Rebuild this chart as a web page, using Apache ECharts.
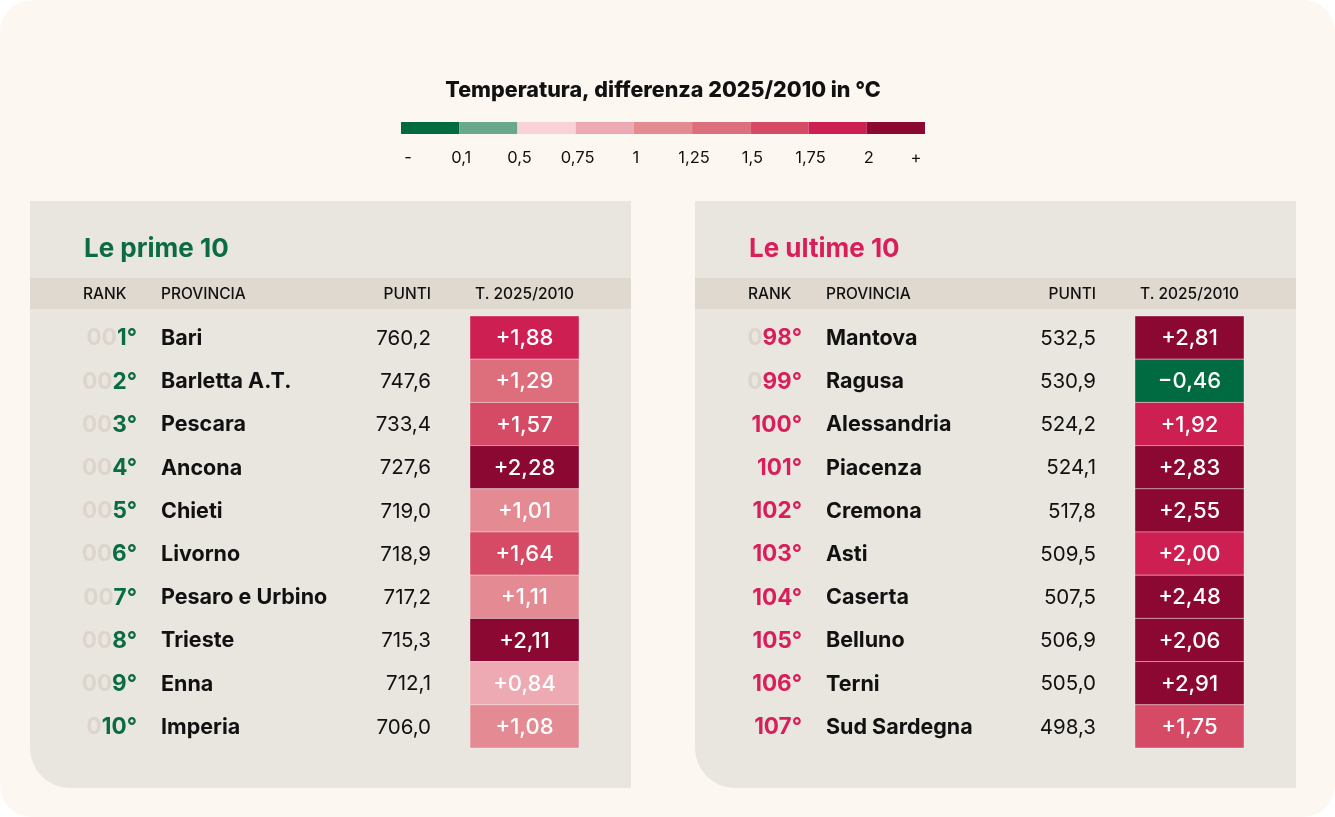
<!DOCTYPE html>
<html>
<head>
<meta charset="utf-8">
<style>
  html, body { margin: 0; padding: 0; background: #ffffff; }
  #chart { width: 1335px; height: 817px; }
</style>
<script src="https://cdn.jsdelivr.net/npm/echarts@6.0.0/dist/echarts.min.js"></script>
</head>
<body>
<div id="chart"></div>
<script>
// legenda: soglie, colori, etichette
const binEdges = [0.1, 0.5, 0.75, 1, 1.25, 1.5, 1.75, 2];
const binColors = ['#006b40', '#6aa88e', '#fbd1d9', '#eeaab3', '#e48a93', '#dd6e7b', '#d54b65', '#ce1f52', '#8b0832'];
const legendLabels = ['-', '0,1', '0,5', '0,75', '1', '1,25', '1,5', '1,75', '2', '+'];

// le prime 10
const topRanks = [1, 2, 3, 4, 5, 6, 7, 8, 9, 10];
const topNames = ['Bari', 'Barletta A.T.', 'Pescara', 'Ancona', 'Chieti', 'Livorno', 'Pesaro e Urbino', 'Trieste', 'Enna', 'Imperia'];
const topPunti = [760.2, 747.6, 733.4, 727.6, 719.0, 718.9, 717.2, 715.3, 712.1, 706.0];
const topTemp = [1.88, 1.29, 1.57, 2.28, 1.01, 1.64, 1.11, 2.11, 0.84, 1.08];

// le ultime 10
const lastRanks = [98, 99, 100, 101, 102, 103, 104, 105, 106, 107];
const lastNames = ['Mantova', 'Ragusa', 'Alessandria', 'Piacenza', 'Cremona', 'Asti', 'Caserta', 'Belluno', 'Terni', 'Sud Sardegna'];
const lastPunti = [532.5, 530.9, 524.2, 524.1, 517.8, 509.5, 507.5, 506.9, 505.0, 498.3];
const lastTemp = [2.81, -0.46, 1.92, 2.83, 2.55, 2.00, 2.48, 2.06, 2.91, 1.75];

const FONT = 'Inter, "Noto Sans", sans-serif';
const GREEN = '#0b6b43';
const RED = '#d81f5c';

function fmt(v, d) {
  return v.toFixed(d).replace('.', ',');
}
function fmtTemp(v) {
  return (v < 0 ? '\u2212' : '+') + fmt(Math.abs(v), 2);
}

// pezzi della visualMap costruiti dalle soglie
const pieces = binColors.map(function (c, i) {
  const p = { color: c };
  if (i > 0) p.gt = binEdges[i - 1];
  if (i < binEdges.length) p.lte = binEdges[i];
  return p;
});

function makeRows(ranks, temps) {
  return ranks.map(function (r, i) { return [i, temps[i]]; });
}

function tableRender(ranks, names, punti, temps, rankColor) {
  return function (params, api) {
    const i = params.dataIndex;
    const y = api.coord([0, api.value(0)])[1] + 1;
    const h = api.size([0, 1])[1];
    const x0 = params.coordSys.x;
    const num = String(ranks[i]);
    const zeros = '0'.repeat(3 - num.length);
    return {
      type: 'group',
      children: [
        {
          type: 'rect',
          shape: { x: x0 + 440, y: y - 1 - h / 2, width: 109, height: h },
          style: { fill: api.visual('color'), stroke: 'rgba(255,255,255,0.35)', lineWidth: 1 }
        },
        {
          type: 'text',
          style: {
            x: x0 + 494.5, y: y, text: fmtTemp(temps[i]),
            fill: '#ffffff', font: '500 22px ' + FONT,
            align: 'center', verticalAlign: 'middle'
          }
        },
        {
          type: 'text',
          style: {
            x: x0 + 107, y: y,
            text: (zeros ? '{z|' + zeros + '}' : '') + '{r|' + num + '°}',
            align: 'right', verticalAlign: 'middle',
            rich: {
              z: { fill: '#ddd5cb', font: '700 22.5px ' + FONT },
              r: { fill: rankColor, font: '700 22.5px ' + FONT }
            }
          }
        },
        {
          type: 'text',
          style: {
            x: x0 + 131, y: y, text: names[i],
            fill: '#111111', font: '700 21.5px ' + FONT,
            align: 'left', verticalAlign: 'middle'
          }
        },
        {
          type: 'text',
          style: {
            x: x0 + 401, y: y, text: fmt(punti[i], 1),
            fill: '#111111', font: '400 20.5px ' + FONT,
            align: 'right', verticalAlign: 'middle'
          }
        }
      ]
    };
  };
}

function panelGraphics(left, title, color) {
  const head = { fill: '#111111', font: '500 15.5px ' + FONT, verticalAlign: 'middle' };
  return [
    { type: 'rect', shape: { x: left, y: 201, width: 601, height: 587, r: [0, 0, 0, 40] }, style: { fill: '#e9e5df' } },
    { type: 'rect', shape: { x: left, y: 278, width: 601, height: 31 }, style: { fill: '#e0d9cf' } },
    { type: 'text', style: { x: left + 54, y: 249, text: title, fill: color, font: '700 26px ' + FONT, verticalAlign: 'middle' } },
    { type: 'text', style: Object.assign({ x: left + 53, y: 294, text: 'RANK', align: 'left' }, head) },
    { type: 'text', style: Object.assign({ x: left + 131, y: 294, text: 'PROVINCIA', align: 'left' }, head) },
    { type: 'text', style: Object.assign({ x: left + 401, y: 294, text: 'PUNTI', align: 'right' }, head) },
    { type: 'text', style: Object.assign({ x: left + 494.5, y: 294, text: 'T. 2025/2010', align: 'center' }, head) }
  ];
}

const chart = echarts.init(document.getElementById('chart'));

const rowCats = topRanks.map(function (r, i) { return i; });

const option = {
  animation: false,
  backgroundColor: '#ffffff',
  graphic: {
    elements: [
      { type: 'rect', z: -10, shape: { x: 0, y: 0, width: 1335, height: 817, r: 32 }, style: { fill: '#fdf7f1' } },
      {
        type: 'text', z: -5,
        style: {
          x: 663, y: 91, text: 'Temperatura, differenza 2025/2010 in °C',
          fill: '#111111', font: '800 21.5px ' + FONT, align: 'center', verticalAlign: 'middle'
        }
      }
    ].concat(panelGraphics(30, 'Le prime 10', GREEN))
     .concat(panelGraphics(695, 'Le ultime 10', RED))
     .map(function (e) { e.z = e.z || -5; return e; })
  },
  visualMap: {
    type: 'piecewise',
    show: false,
    dimension: 1,
    seriesIndex: [1, 2],
    pieces: pieces
  },
  grid: [
    { left: 401, top: 122, width: 524, height: 12 },
    { left: 30, top: 316, width: 601, height: 432 },
    { left: 695, top: 316, width: 601, height: 432 }
  ],
  xAxis: [
    { type: 'value', gridIndex: 0, min: 0, max: binColors.length, show: false },
    { type: 'value', gridIndex: 1, min: 0, max: 1, show: false },
    { type: 'value', gridIndex: 2, min: 0, max: 1, show: false }
  ],
  yAxis: [
    { type: 'value', gridIndex: 0, min: 0, max: 1, show: false },
    { type: 'category', gridIndex: 1, data: rowCats, inverse: true, show: false },
    { type: 'category', gridIndex: 2, data: rowCats, inverse: true, show: false }
  ],
  series: [
    {
      type: 'custom',
      xAxisIndex: 0, yAxisIndex: 0,
      data: binColors.map(function (c, i) { return [i]; }),
      renderItem: function (params, api) {
        const i = params.dataIndex;
        const p0 = api.coord([i, 1]);
        const p1 = api.coord([i + 1, 0]);
        const labY = p1[1] + 24;
        const labStyle = { fill: '#111111', font: '400 16.5px ' + FONT, align: 'center', verticalAlign: 'middle' };
        const children = [
          { type: 'rect', shape: { x: p0[0], y: p0[1], width: p1[0] - p0[0], height: p1[1] - p0[1] }, style: { fill: binColors[i] } }
        ];
        if (i === 0) {
          children.push({ type: 'text', style: Object.assign({ x: p0[0] + 7, y: labY, text: legendLabels[0] }, labStyle) });
        } else {
          children.push({ type: 'text', style: Object.assign({ x: p0[0] + 2, y: labY, text: legendLabels[i] }, labStyle) });
        }
        if (i === binColors.length - 1) {
          children.push({ type: 'text', style: Object.assign({ x: p1[0] - 9, y: labY, text: legendLabels[i + 1] }, labStyle) });
        }
        return { type: 'group', children: children };
      }
    },
    {
      type: 'custom',
      xAxisIndex: 1, yAxisIndex: 1,
      data: makeRows(topRanks, topTemp),
      encode: { y: 0 },
      renderItem: tableRender(topRanks, topNames, topPunti, topTemp, GREEN)
    },
    {
      type: 'custom',
      xAxisIndex: 2, yAxisIndex: 2,
      data: makeRows(lastRanks, lastTemp),
      encode: { y: 0 },
      renderItem: tableRender(lastRanks, lastNames, lastPunti, lastTemp, RED)
    }
  ]
};

chart.setOption(option);
</script>
</body>
</html>
